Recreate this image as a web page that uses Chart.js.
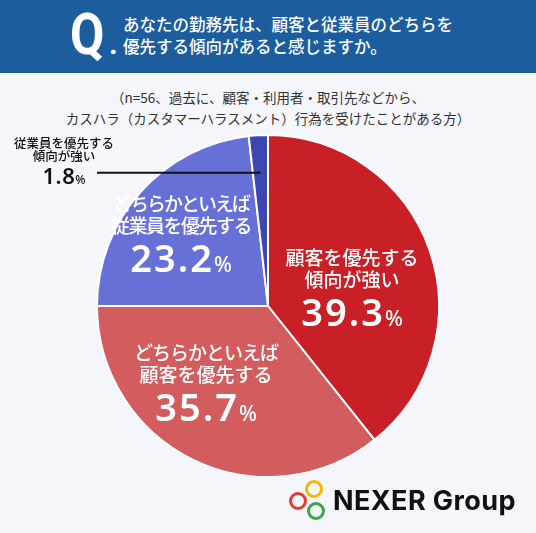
<!DOCTYPE html>
<html>
<head>
<meta charset="utf-8">
<script src="https://cdn.jsdelivr.net/npm/chart.js@4"></script>
<style>
  html,body{margin:0;padding:0;}
  body{width:536px;height:533px;background:#f5f6fb;position:relative;overflow:hidden;font-family:"Noto Sans CJK JP",sans-serif;}
  #head{position:absolute;left:0;top:0;width:536px;height:73px;background:#1c5d9e;}
  #q{position:absolute;left:70px;top:5px;color:#fff;font-family:Roboto,sans-serif;font-weight:700;font-size:58px;line-height:58px;transform:scaleX(0.86);transform-origin:left top;}
  #qdot{position:absolute;left:109px;top:29px;color:#fff;font-family:Roboto,sans-serif;font-weight:700;font-size:30px;line-height:30px;}
  #qtext{position:absolute;left:123px;top:13px;color:#fff;font-size:16.5px;line-height:22px;font-weight:500;}
  #sub{position:absolute;left:0;top:87px;width:536px;text-align:center;color:#333;font-size:13.5px;line-height:21px;}
  #cv{position:absolute;left:0;top:0;}
  .lbl{position:absolute;transform:translateX(-50%);text-align:center;white-space:nowrap;font-weight:500;}
  .num{font-family:"Noto Sans",sans-serif;font-weight:600;}
  .pct{font-weight:500;}
  #logo{position:absolute;left:286px;top:478px;width:240px;height:45px;}
  .ring{position:absolute;width:12px;height:12px;border-radius:50%;border:3px solid;}
  #logotxt{position:absolute;left:47px;top:3px;font-family:Inter,sans-serif;font-weight:700;font-size:27px;line-height:40px;color:#111;letter-spacing:0.4px;}
</style>
</head>
<body>
<div id="head">
  <div id="q">Q</div>
  <div id="qdot">.</div>
  <div id="qtext">あなたの勤務先は、顧客と従業員のどちらを<br>優先する傾向があると感じますか。</div>
</div>
<div id="sub">（n=56、過去に、顧客・利用者・取引先などから、<br>カスハラ（カスタマーハラスメント）行為を受けたことがある方）</div>
<canvas id="cv" width="536" height="533"></canvas>
<div id="logo">
  <div class="ring" style="left:19px;top:2px;border-color:#f2b705"></div>
  <div class="ring" style="left:3px;top:14px;border-color:#e53a2f"></div>
  <div class="ring" style="left:21px;top:24px;border-color:#3aa447"></div>
  <div id="logotxt">NEXER Group</div>
</div>
<script>
// 回答カテゴリと割合（%）
const categories = ['顧客を優先する傾向が強い', 'どちらかといえば顧客を優先する', 'どちらかといえば従業員を優先する', '従業員を優先する傾向が強い']
const values = [39.3, 35.7, 23.2, 1.8]
const labelLines = [['顧客を優先する', '傾向が強い'], ['どちらかといえば', '顧客を優先する'], ['どちらかといえば', '従業員を優先する'], ['従業員を優先する', '傾向が強い']]
const colors = ['#c91f26', '#d35c5e', '#6770d6', '#3d47b3']

// ラベルの配置（円の中心からのずれ）と行ごとの字間
const labelPos = [
    {dx: 84, dy: -49, inside: true, sp: [0, 0]},
    {dx: -62, dy: 46, inside: true, sp: [-1, 0]},
    {dx: -87, dy: -103, inside: true, sp: [-2, -1.5]},
    {dx: -204, dy: -164, inside: false, sp: [0, 0]}
]

// 1.8% の引き出し線
const leaderPlugin = {
    id: 'leader',
    afterDraw(chart) {
        const ctx = chart.ctx
        const meta = chart.getDatasetMeta(0)
        const arc = meta.data[3]
        const mid = (arc.startAngle + arc.endAngle) / 2
        const r = arc.outerRadius * 0.78
        ctx.save()
        ctx.strokeStyle = '#111'
        ctx.lineWidth = 2
        ctx.beginPath()
        ctx.moveTo(arc.x - 171, arc.y + r * Math.sin(mid))
        ctx.lineTo(arc.x + r * Math.cos(mid), arc.y + r * Math.sin(mid))
        ctx.stroke()
        ctx.restore()
    }
}

let grafico = new Chart(document.getElementById('cv'), {
    type: 'pie',
    data: {
        labels: categories,
        datasets: [{
            data: values,
            backgroundColor: colors,
            borderColor: '#ffffff',
            borderWidth: 2
        }]
    },
    options: {
        responsive: false,
        animation: false,
        layout: {padding: {left: 96, right: 96, top: 134, bottom: 55}},
        plugins: {legend: {display: false}, tooltip: {enabled: false}}
    },
    plugins: [leaderPlugin]
})

// ラベル（テキストはHTMLで重ねる）
let centro = grafico.getDatasetMeta(0).data[0]
for (let i = 0; i < values.length; i++) {
    let p = labelPos[i]
    let fs = p.inside ? 19 : 12.5
    let lh = p.inside ? 21.5 : 13
    let big = p.inside ? 38 : 22
    let div = document.createElement('div')
    div.className = 'lbl'
    div.style.left = (centro.x + p.dx) + 'px'
    div.style.top = (centro.y + p.dy - lh / 2) + 'px'
    div.style.color = p.inside ? '#fff' : '#111'
    div.style.fontSize = fs + 'px'
    div.style.lineHeight = lh + 'px'
    div.innerHTML = labelLines[i].map((t, k) => `<div style="letter-spacing:${p.sp[k]}px">${t}</div>`).join('') +
        `<div class="num" style="font-size:${big}px;line-height:${big + 2}px;letter-spacing:${p.inside ? 2 : 0.5}px;margin-top:${p.inside ? 2 : 1}px">` +
        `${values[i].toFixed(1)}<span class="pct" style="font-size:${Math.round(big * 0.55)}px;letter-spacing:0">%</span></div>`
    document.body.appendChild(div)
}
</script>
</body>
</html>
